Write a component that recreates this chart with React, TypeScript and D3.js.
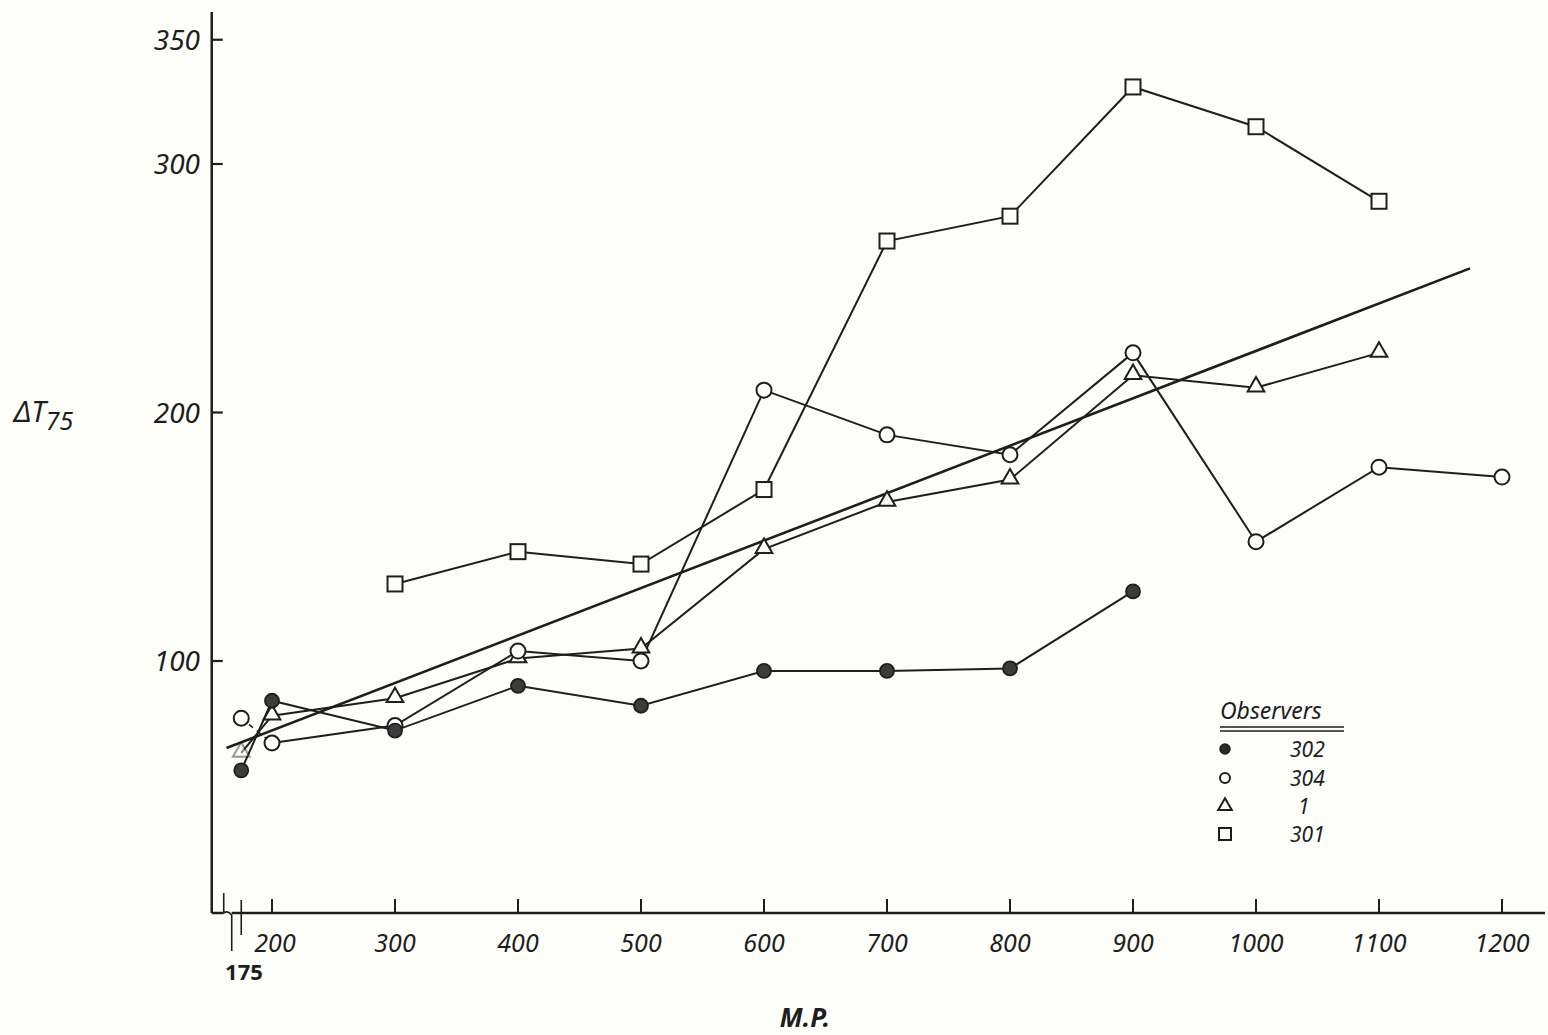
import React, { useEffect, useRef } from "react";
import * as d3 from "d3";

// tick labels
const xTicks = [200, 300, 400, 500, 600, 700, 800, 900, 1000, 1100, 1200];
const yTicks = [100, 200, 300, 350];

// observers (M.P. and delta T75)
const mp302 = [175, 200, 300, 400, 500, 600, 700, 800, 900];
const val302 = [56, 84, 72, 90, 82, 96, 96, 97, 128];

const mp304 = [175, 200, 300, 400, 500, 600, 700, 800, 900, 1000, 1100, 1200];
const val304 = [77, 67, 74, 104, 100, 209, 191, 183, 224, 148, 178, 174];

const mp1 = [175, 200, 300, 400, 500, 600, 700, 800, 900, 1000, 1100];
const val1 = [63, 78, 85, 101, 105, 145, 164, 173, 215, 210, 224];

const mp301 = [300, 400, 500, 600, 700, 800, 900, 1000, 1100];
const val301 = [131, 144, 139, 169, 269, 279, 331, 315, 285];

// fitted straight line
const fitMp = [163, 1174];
const fitVal = [65, 258];

const legendNames = ["302", "304", "1", "301"];

const ink = "#1e1e1e";
const font = "'Noto Sans', 'DejaVu Sans', sans-serif";

function App() {
  const ref = useRef<SVGSVGElement>(null);

  useEffect(() => {
    const width = 1548;
    const height = 1035;
    const svg = d3.select(ref.current).attr("width", width).attr("height", height);
    svg.selectAll("*").remove();

    svg.append("rect").attr("width", width).attr("height", height).attr("fill", "#fdfdf9");

    const x = d3.scaleLinear().domain([200, 1200]).range([272, 1502]);
    const y = d3.scaleLinear().domain([100, 300]).range([661, 164]);

    const x0 = x(151);
    const y0 = 913;

    // axes
    svg.append("line").attr("x1", x0).attr("x2", x0).attr("y1", 12).attr("y2", y0)
      .attr("stroke", ink).attr("stroke-width", 2.5);
    svg.append("line").attr("x1", x0).attr("x2", x0 + 12).attr("y1", y0).attr("y2", y0)
      .attr("stroke", ink).attr("stroke-width", 2.5);
    svg.append("path")
      .attr("d", `M${x0 + 12},${y0} L${x0 + 12},${y0 - 20} M${x0 + 12},${y0} Q${x0 + 16},${y0 - 3} ${x0 + 20},${y0 + 2} L${x0 + 20},${y0 + 38}`)
      .attr("fill", "none").attr("stroke", ink).attr("stroke-width", 1.6);
    svg.append("line").attr("x1", x0 + 20).attr("x2", 1545).attr("y1", y0).attr("y2", y0)
      .attr("stroke", ink).attr("stroke-width", 2.5);

    const xAxis = svg.append("g");
    xAxis.selectAll("line").data(xTicks).join("line")
      .attr("x1", (d) => x(d)).attr("x2", (d) => x(d))
      .attr("y1", y0).attr("y2", y0 - 14)
      .attr("stroke", ink).attr("stroke-width", 2);
    xAxis.selectAll("text").data(xTicks).join("text")
      .attr("x", (d) => x(d) + (d === 200 ? 3 : 0)).attr("y", 952)
      .attr("text-anchor", "middle")
      .attr("font-family", font).attr("font-style", "italic")
      .attr("font-size", 25).attr("fill", ink)
      .text((d) => d);

    // 175 marker
    svg.append("line").attr("x1", x(175)).attr("x2", x(175)).attr("y1", y0 - 13).attr("y2", y0 + 22)
      .attr("stroke", ink).attr("stroke-width", 1.6);
    svg.append("text").attr("x", 244).attr("y", 980).attr("text-anchor", "middle")
      .attr("font-family", font).attr("font-size", 22).attr("font-weight", "bold")
      .attr("fill", ink).text("175");

    const yAxis = svg.append("g");
    yAxis.selectAll("line").data(yTicks).join("line")
      .attr("x1", x0).attr("x2", x0 + 11)
      .attr("y1", (d) => y(d)).attr("y2", (d) => y(d))
      .attr("stroke", ink).attr("stroke-width", 2.2);
    yAxis.selectAll("text").data(yTicks).join("text")
      .attr("x", 200).attr("y", (d) => y(d) + 10)
      .attr("text-anchor", "end")
      .attr("font-family", font).attr("font-style", "italic")
      .attr("font-size", 28).attr("fill", ink)
      .text((d) => d);

    // axis titles
    const yt = svg.append("text").attr("x", 14).attr("y", 422)
      .attr("font-family", font).attr("font-style", "italic").attr("fill", ink);
    yt.append("tspan").attr("font-size", 29).text("\u0394T");
    yt.append("tspan").attr("font-size", 25).attr("dy", 8).text("75");

    svg.append("text").attr("x", 805).attr("y", 1027).attr("text-anchor", "middle")
      .attr("font-family", font).attr("font-style", "italic").attr("font-weight", "bold")
      .attr("font-size", 26).attr("fill", ink).text("M.P.");

    const line = d3.line<[number, number]>().x((d) => x(d[0])).y((d) => y(d[1]));
    const pts = (m: number[], v: number[]) => m.map((d, i) => [d, v[i]] as [number, number]);

    // fitted line
    svg.append("path").attr("d", line(pts(fitMp, fitVal)))
      .attr("fill", "none").attr("stroke", ink).attr("stroke-width", 2.6);

    const p302 = pts(mp302, val302);
    const p304 = pts(mp304, val304);
    const p1 = pts(mp1, val1);
    const p301 = pts(mp301, val301);

    const drawLine = (p: [number, number][], w = 2) =>
      svg.append("path").attr("d", line(p)).attr("fill", "none")
        .attr("stroke", ink).attr("stroke-width", w);

    drawLine(p302);
    drawLine(p304.slice(0, 2), 1.6).attr("stroke-dasharray", "5,5");
    drawLine(p304.slice(1));
    drawLine(p1);
    drawLine(p301);

    const triangle = d3.symbol().type(d3.symbolTriangle);

    // markers
    svg.append("g").selectAll("path").data(p1).join("path")
      .attr("d", triangle.size(120)())
      .attr("transform", (d) => `translate(${x(d[0])},${y(d[1]) - 1})`)
      .attr("fill", "#fdfdf9").attr("stroke", ink).attr("stroke-width", 2)
      .attr("opacity", (d, i) => (i === 0 ? 0.45 : 1));

    svg.append("g").selectAll("circle").data(p304).join("circle")
      .attr("cx", (d) => x(d[0])).attr("cy", (d) => y(d[1])).attr("r", 7.5)
      .attr("fill", "#fdfdf9").attr("stroke", ink).attr("stroke-width", 2);

    svg.append("g").selectAll("circle").data(p302).join("circle")
      .attr("cx", (d) => x(d[0])).attr("cy", (d) => y(d[1])).attr("r", 7)
      .attr("fill", "#3c3c3c").attr("stroke", ink).attr("stroke-width", 1.8);

    svg.append("g").selectAll("rect").data(p301).join("rect")
      .attr("x", (d) => x(d[0]) - 7.5).attr("y", (d) => y(d[1]) - 7.5)
      .attr("width", 15).attr("height", 15)
      .attr("fill", "#fdfdf9").attr("stroke", ink).attr("stroke-width", 2);

    // legend
    const lg = svg.append("g");
    lg.append("text").attr("x", 1220).attr("y", 719)
      .attr("font-family", font).attr("font-style", "italic")
      .attr("font-size", 23).attr("fill", ink).text("Observers");
    lg.append("line").attr("x1", 1220).attr("x2", 1344).attr("y1", 727).attr("y2", 727)
      .attr("stroke", ink).attr("stroke-width", 1.6);
    lg.append("line").attr("x1", 1220).attr("x2", 1344).attr("y1", 731).attr("y2", 731)
      .attr("stroke", ink).attr("stroke-width", 1.6);

    const ly = [749, 778, 806, 834];
    legendNames.forEach((name, i) => {
      const cy = ly[i];
      if (i === 0) {
        lg.append("circle").attr("cx", 1225).attr("cy", cy).attr("r", 5)
          .attr("fill", "#2a2a2a").attr("stroke", ink).attr("stroke-width", 1.5);
      } else if (i === 1) {
        lg.append("circle").attr("cx", 1225).attr("cy", cy).attr("r", 5)
          .attr("fill", "none").attr("stroke", ink).attr("stroke-width", 2);
      } else if (i === 2) {
        lg.append("path").attr("d", triangle.size(80)())
          .attr("transform", `translate(1225,${cy})`)
          .attr("fill", "none").attr("stroke", ink).attr("stroke-width", 2);
      } else {
        lg.append("rect").attr("x", 1219).attr("y", cy - 6).attr("width", 12).attr("height", 12)
          .attr("fill", "none").attr("stroke", ink).attr("stroke-width", 2);
      }
      lg.append("text").attr("x", name === "1" ? 1298 : 1290).attr("y", cy + 8)
        .attr("font-family", font).attr("font-style", "italic")
        .attr("font-size", 21).attr("fill", ink).text(name);
    });
  }, []);

  return (
    <div style={{ position: "absolute", left: 0, top: 0 }}>
      <svg ref={ref} style={{ display: "block" }} />
    </div>
  );
}

export default App;
